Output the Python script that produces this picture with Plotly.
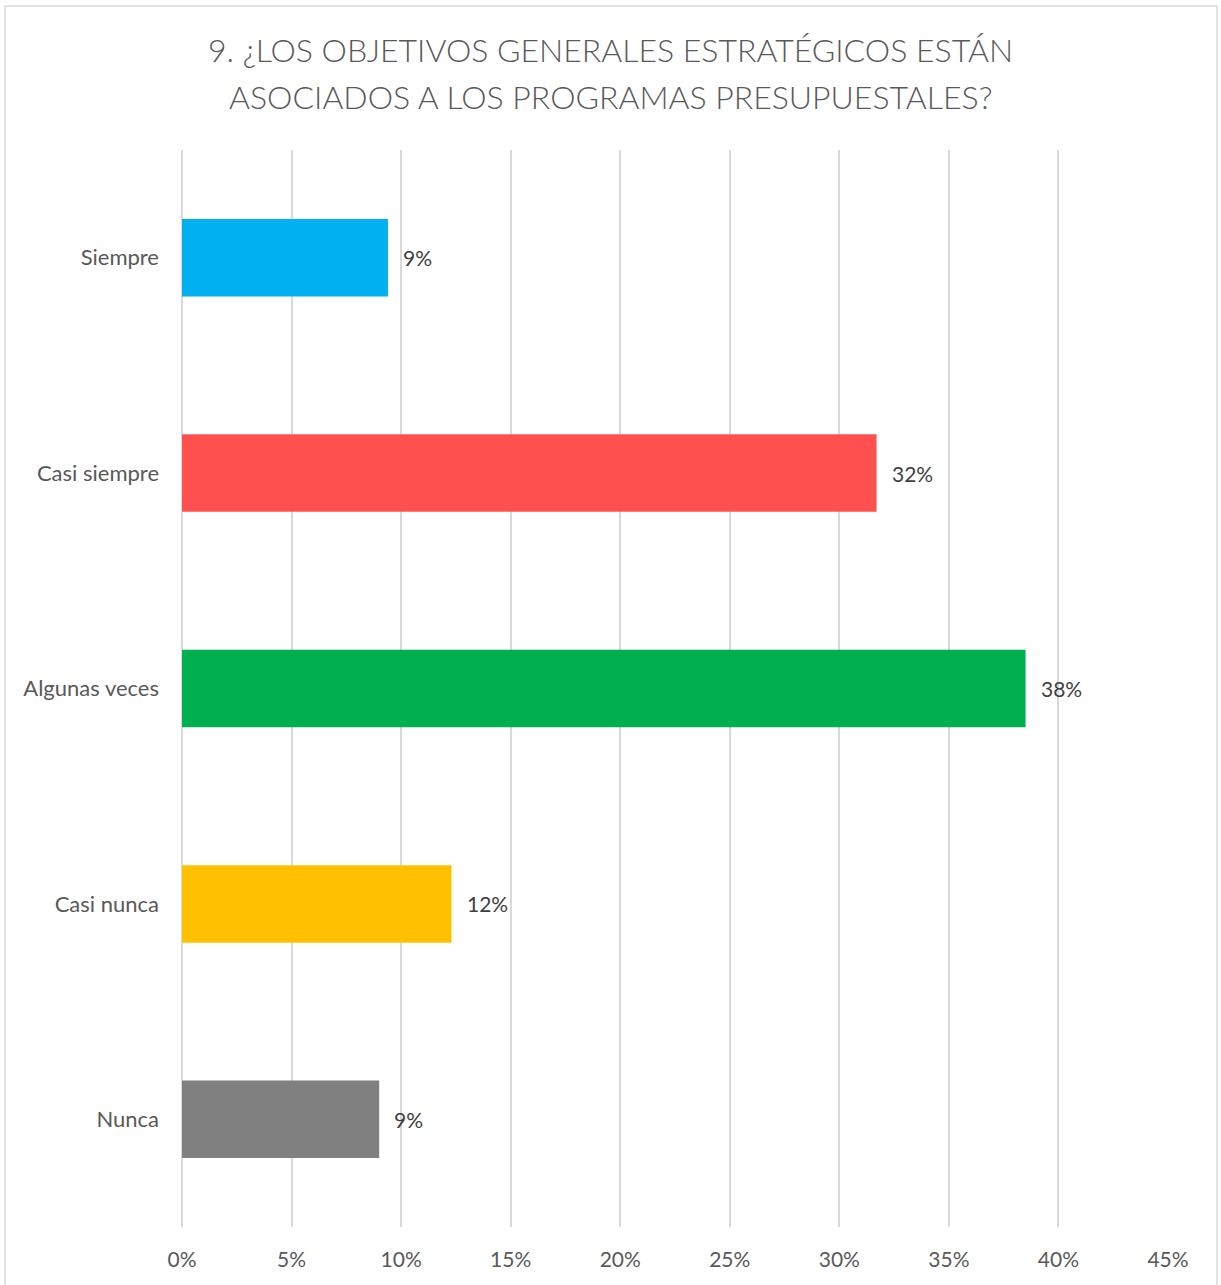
import plotly.graph_objects as go

# Survey answers (share of respondents)
categories = ["Siempre", "Casi siempre", "Algunas veces", "Casi nunca", "Nunca"]
shares = [0.094, 0.317, 0.385, 0.123, 0.090]
bar_colors = ["#00B0F0", "#FF5050", "#00B050", "#FFC000", "#808080"]

title_lines = [
    "9. ¿LOS OBJETIVOS GENERALES ESTRATÉGICOS ESTÁN",
    "ASOCIADOS A LOS PROGRAMAS PRESUPUESTALES?",
]

W, H = 1221, 1285
M_L, M_R, M_T, M_B = 182, 53, 150, 58
pw = W - M_L - M_R
ph = H - M_T - M_B


def px_x(x):
    return (x - M_L) / pw


def px_y(y):
    return (H - M_B - y) / ph


fig = go.Figure(
    go.Bar(
        x=shares,
        y=categories,
        orientation="h",
        marker=dict(color=bar_colors, line=dict(width=0)),
        width=0.36,
        hoverinfo="skip",
    )
)

# value labels just right of each bar end
for cat, val in zip(categories, shares):
    fig.add_annotation(
        x=val, y=cat, xref="x", yref="y",
        text=f"{val:.0%}", showarrow=False,
        xanchor="left", yanchor="middle", xshift=13,
        font=dict(family="Lato", size=21, color="#404040"),
    )

# two-line chart title centred over the whole chart
for i, line in enumerate(title_lines):
    fig.add_annotation(
        x=px_x(W / 2), y=px_y(50 + 46 * i), xref="paper", yref="paper",
        text=line, showarrow=False, xanchor="center", yanchor="middle",
        font=dict(family="Lato", size=32, color="#595959", weight=300),
    )

# light outer frame of the chart area
fig.add_shape(
    type="rect", xref="paper", yref="paper",
    x0=px_x(5), x1=px_x(1217), y0=px_y(1287), y1=px_y(6),
    line=dict(color="#D9D9D9", width=1.5), fillcolor="rgba(0,0,0,0)", layer="below",
)

fig.update_layout(
    width=W, height=H,
    margin=dict(l=M_L, r=M_R, t=M_T, b=M_B),
    paper_bgcolor="white", plot_bgcolor="white",
    showlegend=False,
    xaxis=dict(
        range=[0, 0.45], dtick=0.05, tick0=0, tickformat=".0%",
        showgrid=True, gridcolor="#D9D9D9", gridwidth=1.5,
        zeroline=True, zerolinecolor="#D9D9D9", zerolinewidth=1.5,
        showline=False, ticks="", ticklabelstandoff=18,
        tickfont=dict(family="Lato", size=21, color="#595959"),
        fixedrange=True,
    ),
    yaxis=dict(
        categoryorder="array", categoryarray=categories, autorange="reversed",
        showgrid=False, zeroline=False, showline=False, ticks="",
        ticklabelstandoff=22,
        tickfont=dict(family="Lato", size=22, color="#595959"),
        fixedrange=True,
    ),
)

fig.write_html("out.html")
